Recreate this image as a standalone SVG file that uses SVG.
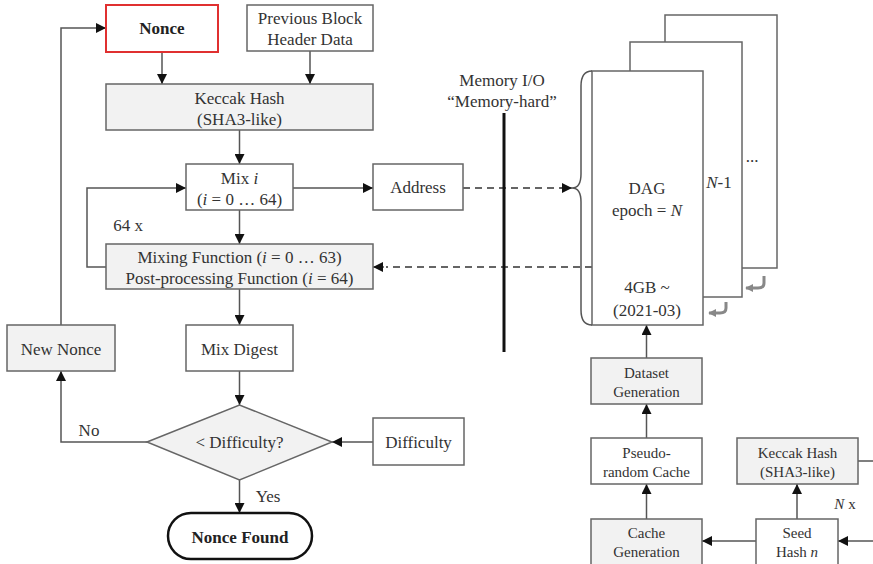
<svg xmlns="http://www.w3.org/2000/svg" width="873" height="564" viewBox="0 0 873 564">
<defs>
<marker id="ah" viewBox="0 0 10 10" refX="10" refY="5" markerWidth="10" markerHeight="10" markerUnits="userSpaceOnUse" orient="auto">
<path d="M0,0 L10,5 L0,10 Z" fill="#111"/>
</marker>
<marker id="hk" viewBox="0 0 10 10" refX="9" refY="5" markerWidth="8" markerHeight="8" markerUnits="userSpaceOnUse" orient="auto">
<path d="M0,0 L10,5 L0,10 Z" fill="#888"/>
</marker>
</defs>
<style>
.box{fill:#fff;stroke:#666;stroke-width:1.5}
.gb{fill:#f2f2f2;stroke:#666;stroke-width:1.5}
.t{font-family:"Liberation Serif","Times New Roman",serif;font-size:17px;fill:#333;text-anchor:middle}
.s{font-size:15px}
.b{font-weight:bold;fill:#222}
.ln{fill:none;stroke:#555;stroke-width:1.5}
.ar{fill:none;stroke:#555;stroke-width:1.5;marker-end:url(#ah)}
.da{fill:none;stroke:#333;stroke-width:1.5;stroke-dasharray:7,5}
.hook{fill:none;stroke:#888;stroke-width:3;marker-end:url(#hk)}
</style>
<rect width="873" height="564" fill="#fff"/>

<g id="connectors">
<path class="ar" d="M61,325 V28 H106"/>
<path class="ar" d="M162,52 V84"/>
<path class="ar" d="M310,51 V84"/>
<path class="ar" d="M239.5,130 V164"/>
<path class="ar" d="M239.5,210 V244"/>
<path class="ar" d="M106,267 H87 V188 H186"/>
<path class="ar" d="M293,188 H373"/>
<path class="ar" d="M239.5,289 V325"/>
<path class="ar" d="M239.5,371 V405"/>
<path class="ar" d="M239.5,480 V513"/>
<path class="ar" d="M147,442 H61 V371"/>
<path class="ar" d="M373,442 H332"/>
<path class="da" d="M463,188 H562" />
<path class="ar" d="M560,188 H572"/>
<path class="da" d="M592,267 H386"/>
<path class="ar" d="M384,267 H373"/>
<path class="ar" d="M646.5,358 V325"/>
<path class="ar" d="M646.5,438 V404"/>
<path class="ar" d="M646.5,519 V484"/>
<path class="ar" d="M756,541 H702"/>
<path class="ar" d="M873,541 H838"/>
<path class="ar" d="M797,519 V484"/>
<path class="ln" d="M858,461 H873"/>
<line x1="504" y1="113" x2="504" y2="352" stroke="#111" stroke-width="3"/>
<path class="hook" d="M726,302 V308 Q726,313 720,313 H709"/>
<path class="hook" d="M764,276 V283 Q764,288 758,288 H746"/>
</g>

<g id="nonce"><rect x="106" y="5" width="112" height="47" fill="#fff" stroke="#e03030" stroke-width="2"/><text class="t b" x="162" y="34">Nonce</text></g>
<g id="prev"><rect class="box" x="247" y="5" width="126" height="46"/><text class="t" x="310" y="24">Previous Block</text><text class="t" x="310" y="45">Header Data</text></g>
<g id="keccak1"><rect class="gb" x="106" y="84" width="267" height="46"/><text class="t" x="239.5" y="104">Keccak Hash</text><text class="t" x="239.5" y="125">(SHA3-like)</text></g>
<g id="mixi"><rect class="box" x="186" y="164" width="107" height="46"/><text class="t" x="239.5" y="184">Mix <tspan font-style="italic">i</tspan></text><text class="t" x="239.5" y="205">(<tspan font-style="italic">i</tspan> = 0 … 64)</text></g>
<g id="address"><rect class="box" x="373" y="164" width="90" height="46"/><text class="t" x="418" y="193">Address</text></g>
<g id="mixing"><rect class="gb" x="106" y="244" width="267" height="45"/><text class="t" x="239.5" y="263">Mixing Function (<tspan font-style="italic">i</tspan> = 0 … 63)</text><text class="t" x="239.5" y="284">Post-processing Function (<tspan font-style="italic">i</tspan> = 64)</text></g>
<text class="t" x="128" y="231">64 x</text>
<g id="newnonce"><rect class="gb" x="7" y="325" width="108" height="46"/><text class="t" x="61" y="355">New Nonce</text></g>
<g id="mixdigest"><rect class="box" x="186" y="325" width="107" height="46"/><text class="t" x="239.5" y="355">Mix Digest</text></g>
<g id="decision"><path d="M147,442 L239.5,405 L332,442 L239.5,480 Z" fill="#f2f2f2" stroke="#666" stroke-width="1.5"/><text class="t" x="239.5" y="448">&lt; Difficulty?</text></g>
<g id="difficulty"><rect class="box" x="373" y="418" width="91" height="47"/><text class="t" x="418.5" y="448">Difficulty</text></g>
<text class="t" x="89" y="436">No</text>
<text class="t" x="268" y="502">Yes</text>
<g id="noncefound"><rect x="168" y="513" width="144" height="46" rx="23" fill="#fff" stroke="#111" stroke-width="2.5"/><text class="t b" x="240" y="543">Nonce Found</text></g>

<g id="memio"><text class="t" x="502" y="86">Memory I/O</text><text class="t" x="502" y="107">“Memory-hard”</text></g>

<g id="dag3"><rect x="665" y="15" width="112" height="253" fill="#fff" stroke="#666" stroke-width="1.5"/><text class="t" x="752" y="162" font-size="13">...</text></g>
<g id="dag2"><rect x="630" y="42" width="112" height="255" fill="#fff" stroke="#666" stroke-width="1.5"/><text class="t" x="719" y="188"><tspan font-style="italic">N</tspan>-1</text></g>
<g id="dag1"><rect x="592" y="71" width="111" height="254" fill="#fff" stroke="#666" stroke-width="1.5"/>
<text class="t" x="647" y="194">DAG</text><text class="t" x="647" y="216">epoch = <tspan font-style="italic">N</tspan></text>
<text class="t" x="647" y="293">4GB ~</text><text class="t" x="647" y="316">(2021-03)</text>
<path d="M592,71 Q581,71 581,86 L581,174 Q581,188 572,188 Q581,188 581,202 L581,310 Q581,325 592,325" fill="none" stroke="#555" stroke-width="1.5"/></g>

<g id="dataset"><rect class="gb" x="591" y="358" width="111" height="46"/><text class="t s" x="646.5" y="378">Dataset</text><text class="t s" x="646.5" y="397">Generation</text></g>
<g id="cache"><rect class="box" x="591" y="438" width="111" height="46"/><text class="t s" x="646.5" y="458">Pseudo-</text><text class="t s" x="646.5" y="477">random Cache</text></g>
<g id="cachegen"><rect class="gb" x="591" y="519" width="111" height="50"/><text class="t s" x="646.5" y="538">Cache</text><text class="t s" x="646.5" y="557">Generation</text></g>
<g id="keccak2"><rect class="gb" x="737" y="438" width="121" height="46"/><text class="t s" x="797.5" y="458">Keccak Hash</text><text class="t s" x="797.5" y="477">(SHA3-like)</text></g>
<g id="seed"><rect class="box" x="756" y="519" width="82" height="50"/><text class="t s" x="797" y="538">Seed</text><text class="t s" x="797" y="557">Hash <tspan font-style="italic">n</tspan></text></g>
<text class="t s" x="845" y="509"><tspan font-style="italic">N</tspan> x</text>
</svg>
